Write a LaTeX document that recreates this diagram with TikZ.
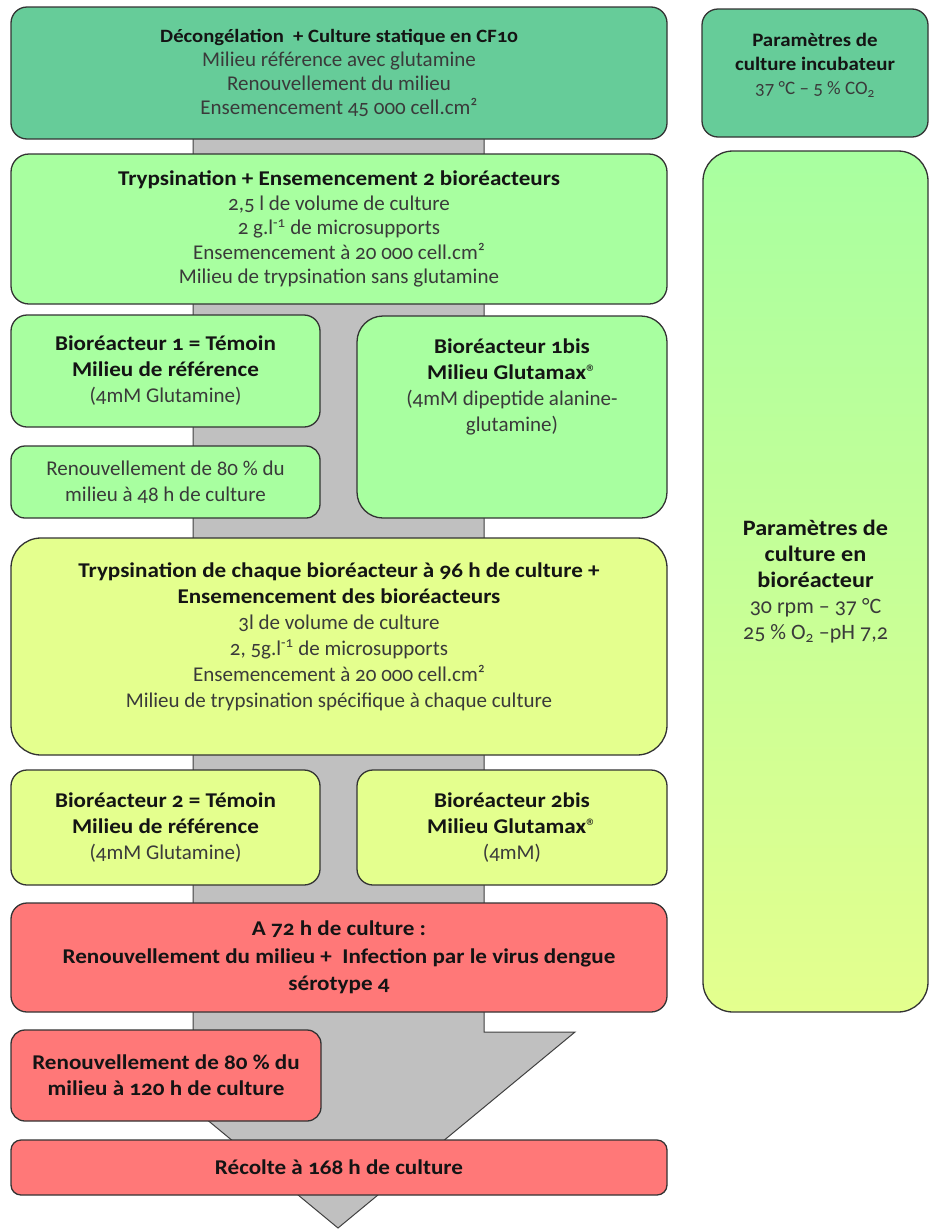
\documentclass[tikz,border=0pt]{standalone}
\usepackage{fontspec}
\setmainfont{Carlito}[Numbers=OldStyle, BoldFeatures={FakeStretch=1.1}]
\usetikzlibrary{positioning}

\definecolor{tealbox}{HTML}{66CC99}
\definecolor{greenbox}{HTML}{A8FFA0}
\definecolor{limebox}{HTML}{E4FF8E}
\definecolor{redbox}{HTML}{FF7878}
\definecolor{shaftgray}{HTML}{C0C0C0}
\definecolor{ink}{HTML}{3A3A3A}

\newcommand\boxtitle[1]{{\bfseries\color{black!92}#1}}

\begin{document}
\begin{tikzpicture}[
  x=1pt, y=-1pt,
  font=\fontsize{21}{26}\selectfont,
  box/.style={draw=black!80, line width=1.3pt, rounded corners=16pt, align=center,
    inner sep=4pt, text=ink},
  wide/.style={box, minimum width=656pt},
  half/.style={box, minimum width=309pt},
  side/.style={box, minimum width=226pt},
  txt/.style={align=center, inner sep=0pt, text=ink},
  smalltxt/.style={font=\fontsize{19}{24}\selectfont},
  shaft/.style={draw=black!75, line width=1pt, fill=shaftgray}
]
\useasboundingbox (0,0) rectangle (930,1229);

% the big grey arrow behind everything
\draw[shaft] (193,110) -- (193,1032) -- (101,1032) -- (338,1228)
  -- (575,1032) -- (484,1032) -- (484,110) -- cycle;

% main column
\node[wide, fill=tealbox, minimum height=132pt,
  font=\fontsize{21}{24}\selectfont] (decong) at (339,73)
  {\boxtitle{\fontsize{18.8}{24}\selectfont Décongélation \ + Culture statique en CF10}\\
   Milieu référence avec glutamine\\
   Renouvellement du milieu\\
   Ensemencement 45~000 cell.cm²};

\node[wide, fill=greenbox, minimum height=150pt, rounded corners=18pt,
  font=\fontsize{21}{24.5}\selectfont] (tryps1) at (339,229)
  {\boxtitle{Trypsination + Ensemencement 2 bioréacteurs}\\
   2,5 l de volume de culture\\
   2 g.l\textsuperscript{-1} de microsupports\\
   Ensemencement à 20~000 cell.cm²\\
   Milieu de trypsination sans glutamine};

\node[half, fill=greenbox, minimum height=112pt] (bior1) at (165.5,371)
  {\boxtitle{Bioréacteur 1 = Témoin}\\
   \boxtitle{Milieu de référence}\\
   (4mM Glutamine)};

\node[half, fill=greenbox, minimum height=72pt, rounded corners=14pt] (renouv1) at (165.5,482)
  {Renouvellement de 80 \% du\\
   milieu à 48 h de culture};

\node[half, fill=greenbox, minimum width=310pt, minimum height=202pt,
  rounded corners=26pt] (bior1bis) at (512,417) {};
\node[txt, below=23pt of bior1bis.north] (bior1bistxt)
  {\boxtitle{Bioréacteur 1bis}\\
   \boxtitle{Milieu Glutamax{\mdseries®}}\\
   (4mM dipeptide alanine-\\
   glutamine)};

\node[wide, fill=limebox, minimum height=217pt, rounded corners=30pt] (tryps2) at (339,646.5) {};
\node[txt, below=25pt of tryps2.north] (tryps2txt)
  {\boxtitle{Trypsination de chaque bioréacteur à 96 h de culture +}\\
   \boxtitle{Ensemencement des bioréacteurs}\\
   3l de volume de culture\\
   2, 5g.l\textsuperscript{-1} de microsupports\\
   Ensemencement à 20~000 cell.cm²\\
   Milieu de trypsination spécifique à chaque culture};

\node[half, fill=limebox, minimum height=115pt] (bior2) at (165.5,827.5)
  {\boxtitle{Bioréacteur 2 = Témoin}\\
   \boxtitle{Milieu de référence}\\
   (4mM Glutamine)};

\node[half, fill=limebox, minimum width=310pt, minimum height=115pt] (bior2bis) at (512,827.5)
  {\boxtitle{Bioréacteur 2bis}\\
   \boxtitle{Milieu Glutamax{\mdseries®}}\\
   (4mM)};

\node[wide, fill=redbox, minimum height=109pt, font=\fontsize{21}{27.5}\selectfont] (infect) at (339,957.5)
  {\boxtitle{A 72 h de culture :}\\
   \boxtitle{Renouvellement du milieu + \ Infection par le virus dengue}\\
   \boxtitle{sérotype 4}};

\node[half, fill=redbox, minimum width=310pt, minimum height=91pt, rounded corners=14pt] (renouv2) at (166,1075.5)
  {\boxtitle{Renouvellement de 80 \% du}\\
   \boxtitle{milieu à 120 h de culture}};

\node[wide, fill=redbox, minimum height=55pt, rounded corners=10pt] (recolte) at (339,1167.5)
  {\boxtitle{Récolte à 168 h de culture}};

% culture parameters, right column
\node[side, fill=tealbox, minimum height=128pt] (incub) at (815,73) {};
\node[txt, smalltxt, below=25pt of incub.north] (incubtxt)
  {\boxtitle{Paramètres de}\\
   \boxtitle{culture incubateur}\\
   37 °C – 5 \% CO\textsubscript{2}};

\node[side, top color=greenbox, bottom color=limebox, minimum width=225pt,
  minimum height=861pt, rounded corners=30pt, font=\fontsize{22}{26}\selectfont] (bioparam) at (815.5,581.5)
  {\boxtitle{Paramètres de}\\
   \boxtitle{culture en}\\
   \boxtitle{bioréacteur}\\
   30 rpm – 37 °C\\
   25 \% O\textsubscript{2} –pH 7,2};

\end{tikzpicture}
\end{document}
